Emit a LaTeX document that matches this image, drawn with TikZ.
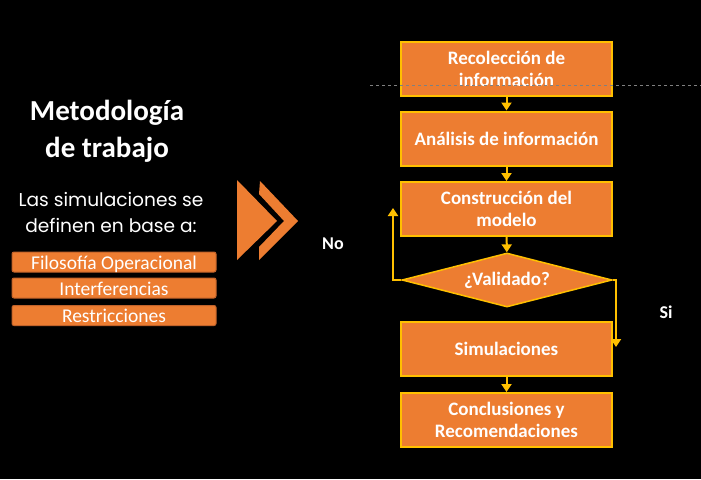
\documentclass[tikz,border=0pt]{standalone}
\usepackage{fontspec}
\setmainfont{Carlito}
\newfontfamily\gothic{Poppins}
\usetikzlibrary{shapes.geometric,arrows.meta}
\definecolor{naranja}{HTML}{ED7D31}
\definecolor{oro}{HTML}{FFC000}
\definecolor{borde}{HTML}{C0622A}
\tikzset{
  paso/.style={draw=oro,line width=2pt,fill=naranja,text=white,minimum width=211pt,minimum height=54pt,
    align=center,font=\bfseries\fontsize{19}{22}\selectfont,inner sep=0pt},
  decision/.style={diamond,draw=oro,line width=1.5pt,fill=naranja,text=white,aspect=3.9,
    minimum width=210pt,minimum height=54pt,font=\bfseries\fontsize{19}{22}\selectfont,inner sep=0pt},
  barra/.style={draw=borde,line width=1pt,fill=naranja,text=white,rounded corners=2pt,minimum width=204pt,
    minimum height=20pt,inner sep=0pt,text height=16pt,text depth=2pt,font=\fontsize{19.5}{20}\selectfont},
  flujo/.style={draw=oro,line width=2pt,-{Triangle[length=8pt,width=10pt]}},
  etiqueta/.style={text=white,font=\bfseries\fontsize{18}{20}\selectfont}
}
\begin{document}
\begin{tikzpicture}[x=1pt,y=-1pt]
    \fill[black] (0,0) rectangle (701,479);
    \useasboundingbox (0,0) rectangle (701,479);
    % texto de la izquierda
    \node[text=white,align=center,font=\bfseries\fontsize{29}{37}\selectfont] (titulo) at (107,131) {Metodolog\'ia\\de trabajo};
    \node[text=white,align=center,font=\gothic\fontsize{18.6}{26}\selectfont] (intro) at (111,213) {Las simulaciones se\\definen en base a:};
    \node[barra] (filo) at (114,262) {Filosof\'ia Operacional};
    \node[barra] (inter) at (114,288) {Interferencias};
    \node[barra] (restr) at (114,315.5) {Restricciones};
    % flechas
    \fill[naranja] (237,180) -- (277,221) -- (237,260) -- cycle;
    \fill[naranja] (260,181) -- (298,221) -- (259,260) -- (259,247) -- (284,221) -- (259,194) -- cycle;
    % diagrama de flujo
    \node[paso] (rec) at (506.5,69) {Recolecci\'on de\\informaci\'on};
    \node[paso] (ana) at (506.5,138.5) {An\'alisis de informaci\'on};
    \node[paso] (con) at (506.5,209) {Construcci\'on del\\modelo};
    \node[decision] (val) at (507,280) {¿Validado?};
    \node[paso] (sim) at (506.5,349) {Simulaciones};
    \node[paso] (conc) at (506.5,420) {Conclusiones y\\Recomendaciones};
    \coordinate (noend) at (393,208);
    \coordinate (siend) at (616,347);
    \draw[flujo] (rec) -- (ana);
    \draw[flujo] (ana) -- (con);
    \draw[flujo] (con) -- (val);
    \draw[flujo] (sim) -- (conc);
    \draw[flujo] (val.west) -| (noend);
    \draw[flujo] (val.east) -| (siend);
    \node[etiqueta] (no) at (333,244) {No};
    \node[etiqueta] (si) at (666,312) {Si};
    \draw[gray,dashed,line width=0.6pt] (370,85) -- (701,85);
\end{tikzpicture}
\end{document}
